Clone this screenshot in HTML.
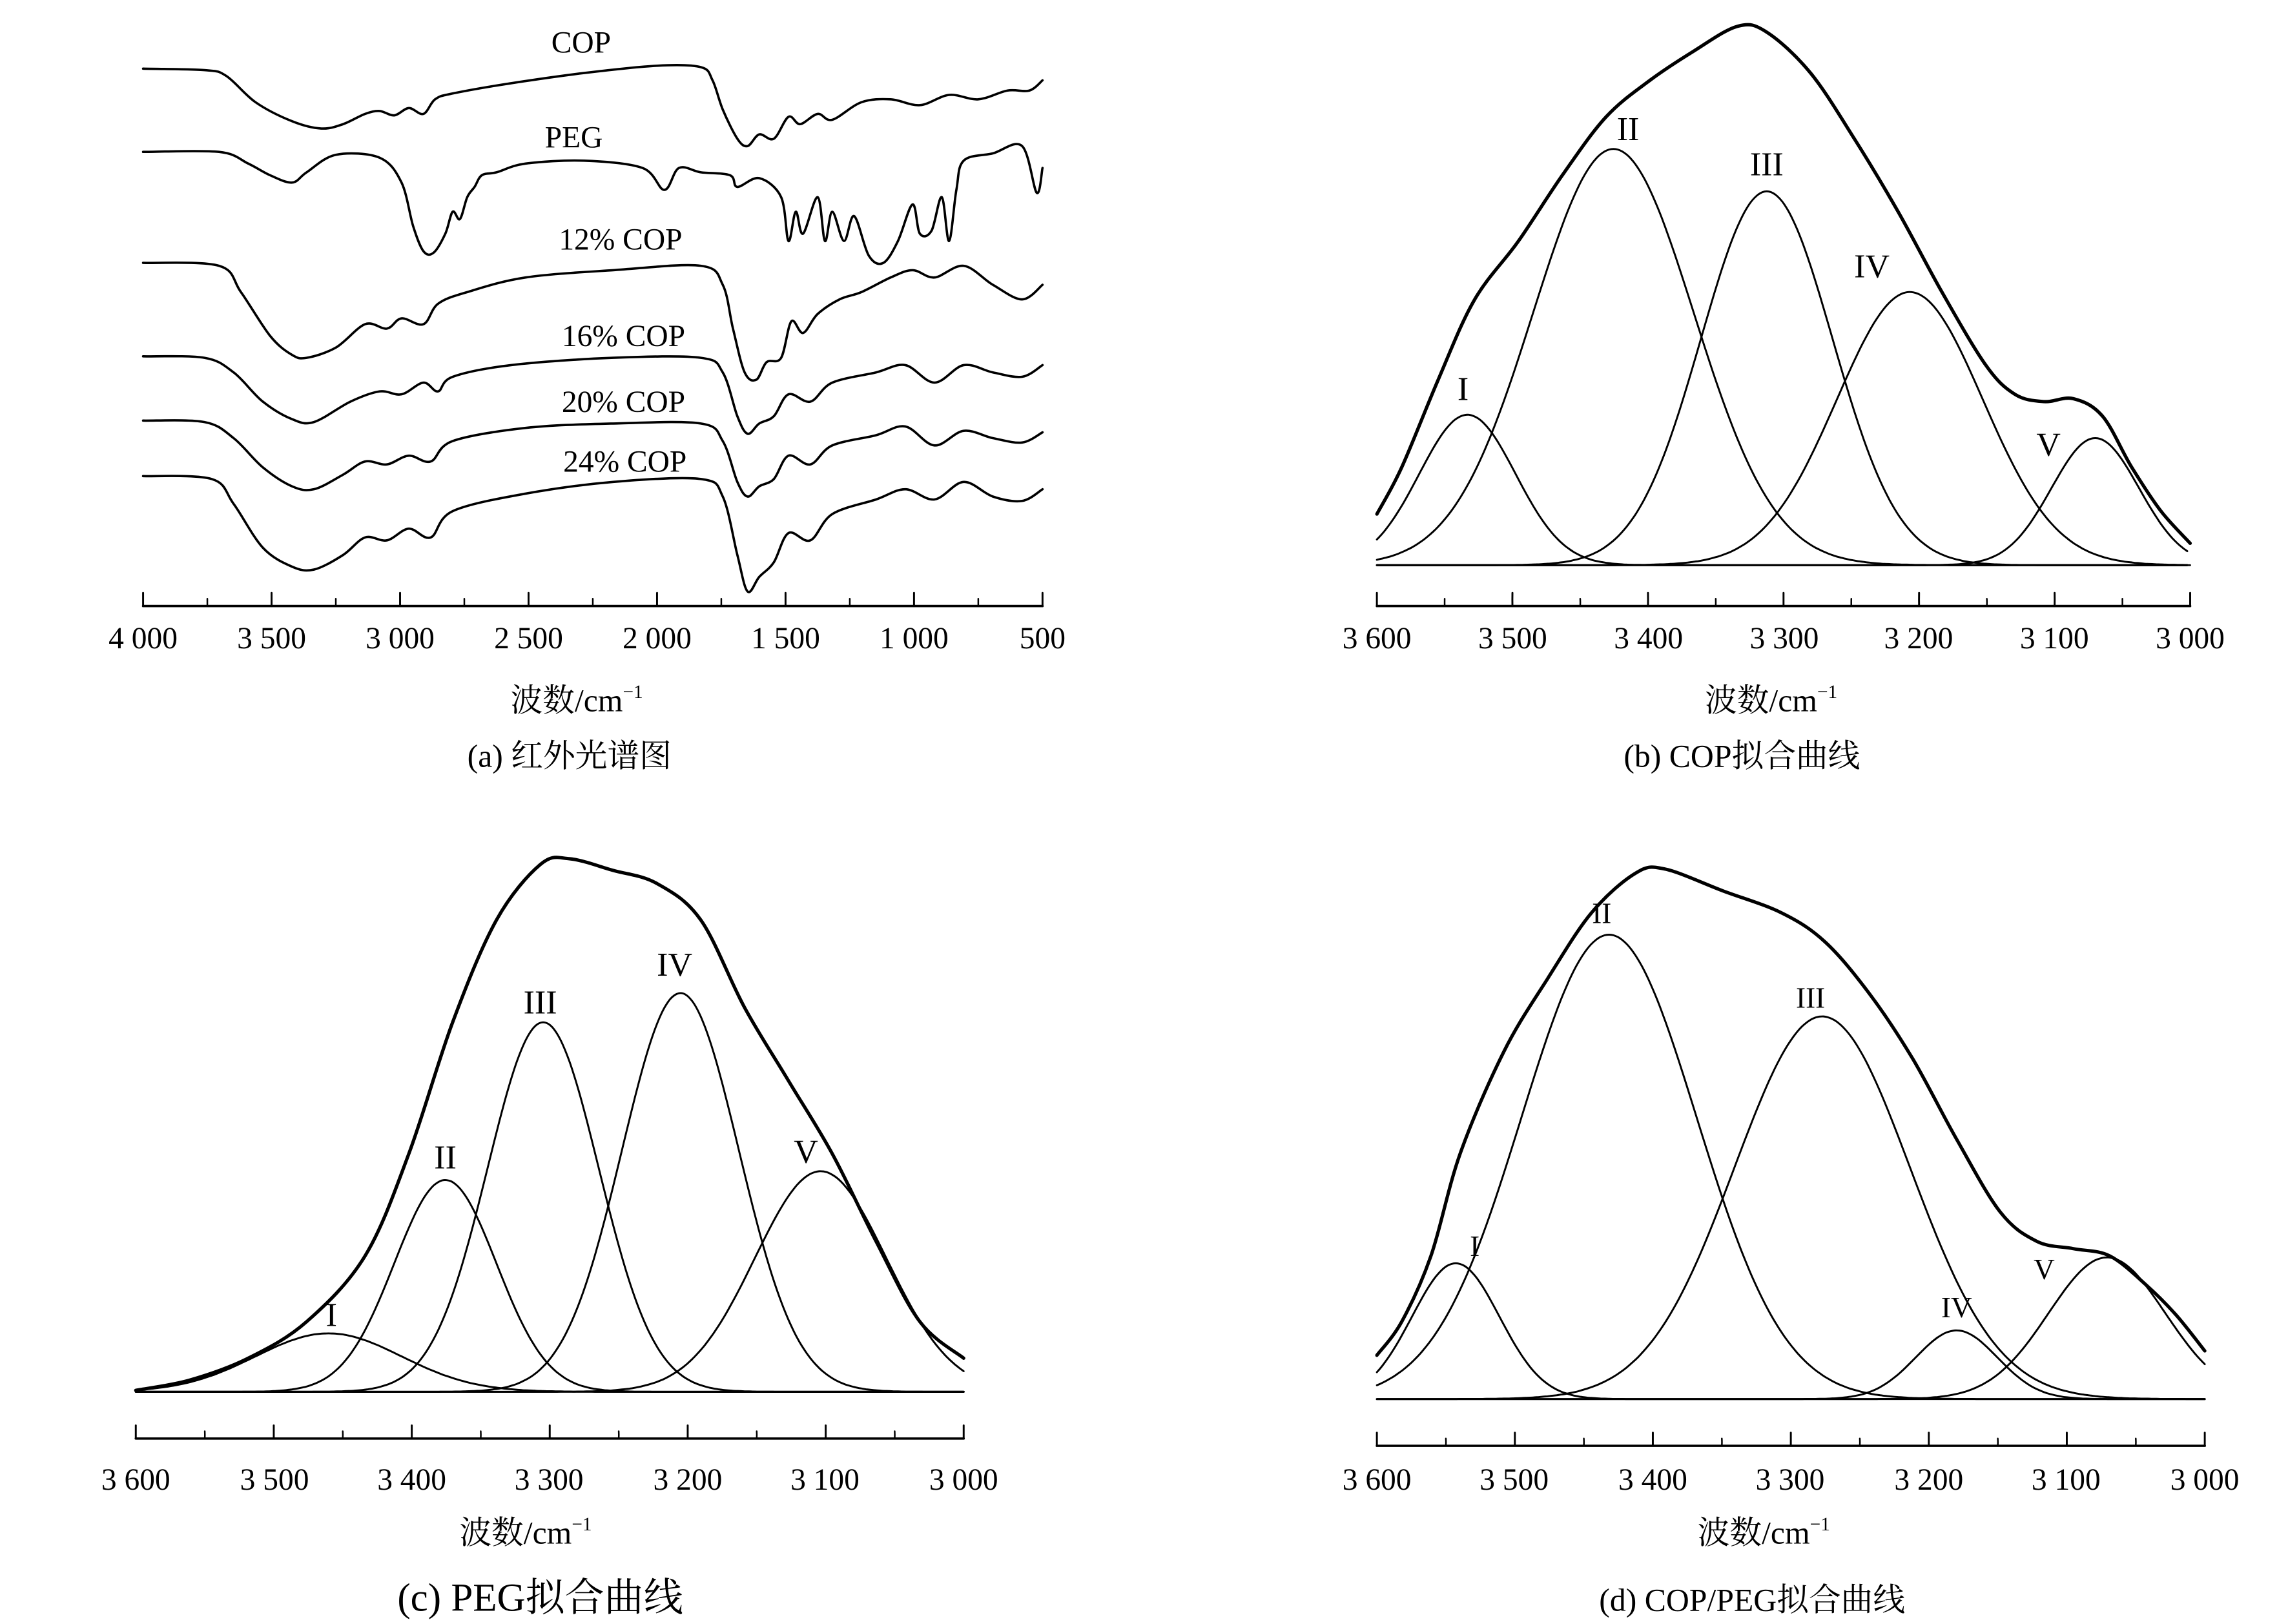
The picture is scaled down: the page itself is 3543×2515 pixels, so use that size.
<!DOCTYPE html>
<html><head><meta charset="utf-8"><style>
html,body{margin:0;padding:0;background:#fff}
svg{display:block}
text{font-family:"Liberation Serif","Noto Serif CJK SC",serif;fill:#000}
</style></head><body>
<svg id="s" width="3543" height="2515" viewBox="0 0 1567 1112" preserveAspectRatio="none" xmlns="http://www.w3.org/2000/svg">
<rect width="1567" height="1112" fill="#fff"/>
<g id="g" fill="none" stroke="#000" stroke-linejoin="round" stroke-linecap="round"></g>
<g font-size="21" text-anchor="middle">
<text x="398" y="36">COP</text>
<text x="393" y="101">PEG</text>
<text x="425" y="171">12% COP</text>
<text x="427" y="237">16% COP</text>
<text x="427" y="282">20% COP</text>
<text x="428" y="323">24% COP</text>
</g>
<g font-size="21" text-anchor="middle">
<text x="98" y="444">4 000</text><text x="186" y="444">3 500</text><text x="274" y="444">3 000</text><text x="362" y="444">2 500</text><text x="450" y="444">2 000</text><text x="538" y="444">1 500</text><text x="626" y="444">1 000</text><text x="714" y="444">500</text>
<text x="943" y="444">3 600</text><text x="1036" y="444">3 500</text><text x="1129" y="444">3 400</text><text x="1222" y="444">3 300</text><text x="1314" y="444">3 200</text><text x="1407" y="444">3 100</text><text x="1500" y="444">3 000</text>
<text x="93" y="1020">3 600</text><text x="188" y="1020">3 500</text><text x="282" y="1020">3 400</text><text x="376" y="1020">3 300</text><text x="471" y="1020">3 200</text><text x="565" y="1020">3 100</text><text x="660" y="1020">3 000</text>
<text x="943" y="1020">3 600</text><text x="1037" y="1020">3 500</text><text x="1132" y="1020">3 400</text><text x="1226" y="1020">3 300</text><text x="1321" y="1020">3 200</text><text x="1415" y="1020">3 100</text><text x="1510" y="1020">3 000</text>
</g>
<g font-size="22" text-anchor="middle">
<text x="395" y="487">波数/cm<tspan font-size="13" dy="-9">−1</tspan></text>
<text x="1213" y="487">波数/cm<tspan font-size="13" dy="-9">−1</tspan></text>
<text x="360" y="1057">波数/cm<tspan font-size="13" dy="-9">−1</tspan></text>
<text x="1208" y="1057">波数/cm<tspan font-size="13" dy="-9">−1</tspan></text>
<text x="390" y="525">(a) 红外光谱图</text>
<text x="1193" y="525">(b) COP拟合曲线</text>
<text x="1200" y="1103">(d) COP/PEG拟合曲线</text>
<text x="370" y="1103" font-size="27">(c) PEG拟合曲线</text>
</g>
<g font-size="23" text-anchor="middle">
<text x="1002" y="274">I</text><text x="1115" y="96">II</text><text x="1210" y="120">III</text><text x="1282" y="190">IV</text><text x="1403" y="312">V</text>
<text x="227" y="908">I</text><text x="305" y="800">II</text><text x="370" y="694">III</text><text x="462" y="668">IV</text><text x="552" y="796">V</text>
<text x="1010" y="860" font-size="20">I</text><text x="1097" y="632" font-size="20">II</text><text x="1240" y="690" font-size="20">III</text><text x="1340" y="902" font-size="20">IV</text><text x="1400" y="876" font-size="20">V</text>
</g>
</svg>
<script>
var g=document.getElementById('g');
function P(pts,w){var p=document.createElementNS('http://www.w3.org/2000/svg','path');
var d='M'+pts[0][0]+','+pts[0][1];
for(var i=0;i<pts.length-1;i++){var p0=pts[Math.max(0,i-1)],p1=pts[i],p2=pts[i+1],p3=pts[Math.min(pts.length-1,i+2)];
d+=' C'+(p1[0]+(p2[0]-p0[0])/6).toFixed(1)+','+(p1[1]+(p2[1]-p0[1])/6).toFixed(1)+' '+(p2[0]-(p3[0]-p1[0])/6).toFixed(1)+','+(p2[1]-(p3[1]-p1[1])/6).toFixed(1)+' '+p2[0]+','+p2[1];}
p.setAttribute('d',d);p.setAttribute('stroke-width',w);g.appendChild(p);}
function L(x1,y1,x2,y2,w){P([[x1,y1],[x2,y2]],w);}
function axis(x0,x1,y,n,minor){L(x0,y,x1,y,1.6);for(var i=0;i<=n*2;i++){var x=x0+(x1-x0)*i/(2*n);if(i%2==0)L(x,y,x,y-9,1.3);else if(minor)L(x,y,x,y-5,1.1);}}
axis(98,714,415,7,true);axis(943,1500,415,6,true);axis(93,660,985,6,true);axis(943,1510,990,6,true);
function fit(x0,x1,base,peaks,E){L(x0,base,x1,base,1.2);
peaks.forEach(function(pk){var a=[];for(var x=x0;x<=x1;x+=3){a.push([x,+(base-pk[1]*Math.exp(-Math.pow((x-pk[0])/pk[2],2)/2)).toFixed(1)]);}P(a,1.3);});
P(E,2.3);}
fit(943,1500,387,[[1005,103,33],[1105,285,55],[1210,256,45],[1308,187,50],[1435,87,30]],
[[943,352],[960,320],[985,260],[1010,205],[1040,165],[1070,120],[1100,80],[1130,55],[1160,35],[1190,18],[1210,22],[1240,50],[1270,95],[1300,145],[1330,200],[1360,250],[1380,270],[1400,275],[1420,273],[1440,285],[1460,320],[1480,350],[1500,372]]);
fit(93,660,953,[[225,40,50],[305,145,35],[372,253,38],[466,273,40],[562,151,45]],
[[93,952],[130,945],[170,930],[210,905],[250,860],[280,790],[310,700],[340,630],[370,592],[390,588],[420,596],[450,605],[480,630],[510,690],[540,740],[570,790],[600,850],[630,905],[660,930]]);
fit(943,1510,958,[[997,93,30],[1102,318,60],[1248,262,60],[1340,47,28],[1443,97,40]],
[[943,928],[960,905],[980,860],[1000,790],[1030,720],[1060,670],[1090,625],[1120,598],[1140,595],[1180,610],[1220,625],[1250,645],[1280,680],[1310,725],[1340,780],[1370,830],[1395,850],[1420,855],[1445,860],[1470,880],[1490,900],[1510,925]]);
var S=[
[[98,47],[140,48],[155,52],[175,70],[200,83],[220,88],[235,85],[250,78],[260,76],[270,79],[280,74],[290,78],[298,68],[310,64],[350,57],[400,50],[450,45],[480,46],[488,55],[495,75],[505,95],[512,100],[520,92],[530,95],[540,80],[548,85],[560,78],[570,82],[590,70],[610,68],[630,72],[650,65],[670,68],[690,62],[705,62],[714,55]],
[[98,104],[150,104],[170,112],[185,120],[200,125],[210,118],[230,106],[260,108],[275,125],[283,155],[290,172],[297,173],[305,160],[310,145],[315,150],[320,135],[325,128],[330,120],[340,118],[360,112],[400,110],[440,115],[455,130],[465,115],[480,118],[500,120],[505,128],[520,122],[535,135],[540,165],[545,145],[550,160],[560,135],[565,165],[570,145],[578,165],[585,148],[595,175],[605,180],[615,165],[625,140],[630,160],[638,158],[645,135],[650,165],[655,130],[660,110],[680,105],[700,100],[710,132],[714,115]],
[[98,180],[150,182],[165,200],[185,230],[200,243],[210,245],[230,238],[250,222],[265,225],[275,218],[290,222],[300,208],[320,200],[360,190],[420,185],[480,182],[495,195],[502,225],[510,255],[518,260],[525,248],[535,245],[542,220],[550,228],[560,215],[575,205],[590,200],[610,190],[625,185],[640,190],[660,182],[680,195],[700,205],[714,195]],
[[98,244],[140,245],[160,255],[180,275],[200,287],[215,289],[240,275],[260,268],[275,270],[290,262],[300,268],[310,258],[350,250],[420,245],[480,245],[495,255],[505,285],[512,297],[520,290],[530,285],[540,270],[555,275],[570,262],[600,255],[620,250],[640,262],[660,250],[680,255],[700,258],[714,250]],
[[98,288],[140,289],[160,300],[180,320],[200,333],[215,335],[235,325],[250,316],[265,318],[280,312],[295,316],[310,302],[360,293],[420,290],[480,290],[495,302],[505,330],[512,340],[520,333],[530,328],[540,312],[555,318],[570,305],[600,298],[620,292],[640,305],[660,295],[680,300],[700,303],[714,296]],
[[98,326],[145,328],[160,345],[180,375],[200,388],[215,390],[235,380],[250,368],[265,370],[280,362],[295,368],[310,350],[360,338],[420,330],[480,328],[495,340],[505,380],[512,405],[520,395],[530,385],[540,365],[555,370],[570,352],[600,342],[620,335],[640,342],[660,330],[680,340],[700,343],[714,335]]];
S.forEach(function(s){P(s,1.6);});
</script>
</body></html>
